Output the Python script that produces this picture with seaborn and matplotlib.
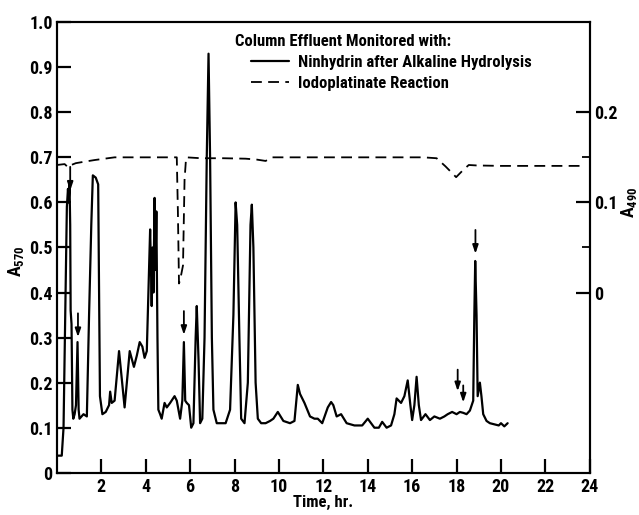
import matplotlib
matplotlib.use("Agg")
import matplotlib.pyplot as plt
import seaborn as sns
import pandas as pd

# Ninhydrin after alkaline hydrolysis (A570, left axis)
time_ninhydrin = [0, 0.22, 0.3, 0.36, 0.45, 0.5, 0.53, 0.57, 0.6, 0.62, 0.66, 0.7, 0.74, 0.8, 0.86,
                  0.93, 0.98, 1.02, 1.2, 1.35, 1.45, 1.55, 1.62, 1.75, 1.86, 1.9, 1.94, 2.05, 2.2,
                  2.35, 2.4, 2.47, 2.6, 2.8, 2.9, 3.05, 3.15, 3.28, 3.47, 3.6, 3.73, 3.85, 3.95,
                  4.05, 4.15, 4.2, 4.24, 4.27, 4.31, 4.35, 4.4, 4.44, 4.48, 4.53, 4.57, 4.65, 4.72,
                  4.85, 4.95, 5.1, 5.3, 5.4, 5.55, 5.65, 5.72, 5.78, 5.85, 5.95, 6.05, 6.15, 6.25,
                  6.3, 6.38, 6.45, 6.55, 6.65, 6.75, 6.83, 6.9, 6.98, 7.05, 7.2, 7.6, 7.8, 7.95,
                  8.05, 8.12, 8.22, 8.3, 8.45, 8.6, 8.72, 8.78, 8.85, 8.95, 9.05, 9.2, 9.4, 9.6,
                  9.75, 9.95, 10.2, 10.5, 10.7, 10.85, 10.95, 11.15, 11.4, 11.6, 11.75, 11.95,
                  12.2, 12.35, 12.45, 12.6, 12.8, 13.05, 13.4, 13.75, 14.0, 14.3, 14.5, 14.65,
                  14.85, 15.05, 15.2, 15.3, 15.5, 15.65, 15.8, 15.92, 16.0, 16.1, 16.2, 16.3,
                  16.4, 16.6, 16.8, 17.0, 17.25, 17.45, 17.6, 17.8, 18.0, 18.15, 18.3, 18.45,
                  18.6, 18.75, 18.8, 18.84, 18.9, 18.95, 19.05, 19.12, 19.2, 19.35, 19.5, 19.9,
                  20.0, 20.15, 20.3]
a570 = [0.038, 0.038, 0.10, 0.30, 0.59, 0.63, 0.60, 0.64, 0.55, 0.36, 0.33, 0.14, 0.12, 0.13, 0.15,
        0.29, 0.14, 0.12, 0.13, 0.125, 0.35, 0.55, 0.66, 0.655, 0.64, 0.40, 0.17, 0.13, 0.135,
        0.15, 0.18, 0.155, 0.16, 0.27, 0.22, 0.145, 0.20, 0.27, 0.235, 0.26, 0.29, 0.28, 0.255,
        0.27, 0.45, 0.54, 0.45, 0.37, 0.50, 0.40, 0.61, 0.45, 0.58, 0.30, 0.14, 0.13, 0.12,
        0.155, 0.145, 0.155, 0.17, 0.16, 0.12, 0.16, 0.29, 0.16, 0.155, 0.15, 0.10, 0.11, 0.30,
        0.37, 0.25, 0.11, 0.12, 0.30, 0.70, 0.93, 0.70, 0.30, 0.14, 0.11, 0.11, 0.14, 0.35,
        0.60, 0.55, 0.30, 0.12, 0.11, 0.20, 0.55, 0.595, 0.50, 0.20, 0.12, 0.11, 0.11, 0.115,
        0.12, 0.135, 0.115, 0.11, 0.115, 0.195, 0.175, 0.155, 0.125, 0.12, 0.12, 0.11,
        0.145, 0.157, 0.15, 0.125, 0.13, 0.11, 0.105, 0.105, 0.12, 0.10, 0.10, 0.113,
        0.10, 0.105, 0.13, 0.165, 0.155, 0.17, 0.205, 0.15, 0.117, 0.15, 0.213, 0.15,
        0.117, 0.13, 0.117, 0.125, 0.12, 0.125, 0.13, 0.135, 0.13, 0.135, 0.133, 0.13,
        0.138, 0.16, 0.35, 0.47, 0.35, 0.17, 0.20, 0.17, 0.13, 0.115, 0.11, 0.105,
        0.11, 0.103, 0.11]

# Iodoplatinate reaction (A490, right axis)
time_iodo = [0, 0.35, 0.5, 0.65, 0.85, 1.2, 1.7, 2.6, 3.5, 4.5, 5.4, 5.45, 5.5, 5.56, 5.68,
             5.75, 5.82, 6.5, 7.5, 8.5, 9.0, 9.4, 9.7, 11, 13, 15, 16.5, 17.1, 17.5, 17.98,
             18.3, 18.55, 18.9, 20, 22, 23.6]
a490 = [0.1415, 0.1425, 0.139, 0.1415, 0.1435, 0.145, 0.147, 0.15, 0.15, 0.15, 0.15, 0.09,
        0.01, 0.015, 0.03, 0.125, 0.15, 0.149, 0.149, 0.1485, 0.1475, 0.146, 0.15, 0.15, 0.15,
        0.15, 0.15, 0.149, 0.14, 0.128, 0.136, 0.1415, 0.141, 0.1405, 0.1405, 0.1405]

# arrows marking fractions: time, tail (A570), tip (A570)
arrow_time = [0.6, 0.95, 5.72, 18.05, 18.3, 18.85]
arrow_tail = [0.685, 0.36, 0.365, 0.235, 0.20, 0.545]
arrow_tip = [0.62, 0.295, 0.30, 0.175, 0.15, 0.48]

x_ticks = [2, 4, 6, 8, 10, 12, 14, 16, 18, 20, 22, 24]
left_ticks = [0, 0.1, 0.2, 0.3, 0.4, 0.5, 0.6, 0.7, 0.8, 0.9, 1.0]
left_labels = ["0", "0.1", "0.2", "0.3", "0.4", "0.5", "0.6", "0.7", "0.8", "0.9", "1.0"]
right_ticks = [0, 0.1, 0.2]
right_labels = ["0", "0.1", "0.2"]
right_minor = [0.05, 0.15]

sns.set_style("ticks")
plt.rcParams['font.family'] = ['Roboto Condensed', 'DejaVu Sans']
plt.rcParams['font.weight'] = 'bold'
plt.rcParams['text.color'] = 'black'
plt.rcParams['axes.labelcolor'] = 'black'
plt.rcParams['xtick.color'] = 'black'
plt.rcParams['ytick.color'] = 'black'
plt.rcParams['xtick.direction'] = 'in'
plt.rcParams['ytick.direction'] = 'in'
plt.rcParams['mathtext.fontset'] = 'custom'
plt.rcParams['mathtext.rm'] = 'Roboto Condensed:bold'
plt.rcParams['mathtext.default'] = 'rm'

nin = pd.DataFrame({"time": time_ninhydrin, "a570": a570})
iodo = pd.DataFrame({"time": time_iodo, "a490": a490})

fig = plt.figure(figsize=(6.39, 5.15), dpi=100)
ax = fig.add_axes([0.089, 0.082, 0.834, 0.875])
ax2 = ax.twinx()

sns.lineplot(data=nin, x="time", y="a570", ax=ax, color="black", lw=1.6,
             sort=False, legend=False)
sns.lineplot(data=iodo, x="time", y="a490", ax=ax2, color="black", lw=1.3,
             sort=False, legend=False)
ax2.lines[0].set_dashes([6, 3.5])

for t, y0, y1 in zip(arrow_time, arrow_tail, arrow_tip):
    ax.annotate("", xy=(t, y1), xytext=(t, y0),
                arrowprops=dict(arrowstyle="-|>,head_length=0.5,head_width=0.17",
                                color="black", lw=1.3))

ax.set_xlim(0, 24)
ax.set_ylim(0, 1.0)
ax2.set_ylim(-0.2, 0.3)

ax.set_xticks(x_ticks)
ax.set_xticklabels([str(v) for v in x_ticks], fontsize=13, fontweight='bold')
ax.set_yticks(left_ticks)
ax.set_yticklabels(left_labels, fontsize=13, fontweight='bold')
ax.tick_params(axis='x', bottom=True, direction='in', length=10, width=1.6, pad=4)
ax.tick_params(axis='y', left=True, direction='in', length=10, width=1.6, pad=3)

ax2.set_yticks(right_ticks)
ax2.set_yticklabels(right_labels, fontsize=13, fontweight='bold')
ax2.set_yticks(right_minor, minor=True)
ax2.tick_params(axis='y', which='major', right=True, direction='in', length=10, width=1.6, pad=3)
ax2.tick_params(axis='y', which='minor', right=True, direction='in', length=6, width=1.3)

for a in (ax, ax2):
    for s in a.spines.values():
        s.set_visible(True)
        s.set_color("black")
        s.set_linewidth(1.5)

ax.set_xlabel("Time, hr.", fontsize=12, fontweight='bold', labelpad=-1)
ax.set_ylabel("A$_{570}$", fontsize=13, fontweight='bold')
ax2.set_ylabel("A$_{490}$", fontsize=13, fontweight='bold', rotation=90)
ax.yaxis.set_label_coords(-0.057, 0.47)
ax2.yaxis.set_label_coords(1.054, 0.6)

# legend title as its own text, entries below with indented handles
ax.text(0.334, 0.956, "Column Effluent Monitored with:", transform=ax.transAxes,
        fontsize=12, fontweight='bold', ha='left', va='center')
handles = [ax.lines[0], ax2.lines[0]]
labels = ["Ninhydrin after Alkaline Hydrolysis", "Iodoplatinate Reaction"]
leg = ax.legend(handles, labels, loc="upper left", bbox_to_anchor=(0.364, 0.927),
                frameon=False, fontsize=12, handlelength=2.3, handletextpad=0.5,
                labelspacing=0.35, borderaxespad=0, borderpad=0)
for txt in leg.get_texts():
    txt.set_fontweight('bold')

fig.savefig("out.png", dpi=100)
